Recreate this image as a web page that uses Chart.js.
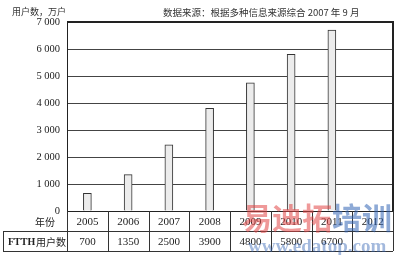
<!DOCTYPE html>
<html>
<head>
<meta charset="utf-8">
<script src="https://cdn.jsdelivr.net/npm/chart.js@4/dist/chart.umd.min.js"></script>
<style>
  html, body { margin: 0; padding: 0; background: #fff; }
  canvas { display: block; }
</style>
</head>
<body>
<canvas id="myChart" width="400" height="255"></canvas>
<script>
// données
var years = ['2005', '2006', '2007', '2008', '2009', '2010', '2011', '2012'];
var barValues = [650, 1350, 2450, 3800, 4750, 5800, 6700, null];
var tableValues = ['700', '1350', '2500', '3900', '4800', '5800', '6700', ''];
var yTicks = [0, 1000, 2000, 3000, 4000, 5000, 6000, 7000];

var unitText = '用户数，万户';
var sourceText = '数据来源：根据多种信息来源综合 2007 年 9 月';
var rowLabels = ['年份', 'FTTH 用户数'];

var serif = '"Liberation Serif", "Times New Roman", serif';
var cjk = '"Noto Sans CJK SC", sans-serif';
var ink = '#222';

function fmt(v) {
    var s = String(v);
    if (s.length > 3) s = s.slice(0, s.length - 3) + ' ' + s.slice(-3);
    return s;
}

var tablePlugin = {
    id: 'tablePlugin',
    afterDraw: function (chart) {
        var ctx = chart.ctx;
        var a = chart.chartArea;
        var x = chart.scales.x;
        var w = a.width / years.length;
        var rowH = 20;
        var r1 = a.bottom, r2 = a.bottom + rowH, r3 = a.bottom + 2 * rowH;
        var leftEdge = 3;

        ctx.save();
        // cadre du graphique
        ctx.strokeStyle = '#222';
        ctx.lineWidth = 1;
        ctx.strokeRect(a.left + 0.5, a.top + 0.5, a.width, a.height);
        ctx.lineWidth = 2;
        ctx.beginPath();
        ctx.moveTo(a.left, a.top);
        ctx.lineTo(a.right, a.top);
        ctx.lineTo(a.right, a.bottom);
        ctx.stroke();

        // tableau
        ctx.lineWidth = 1;
        ctx.strokeStyle = '#333';
        ctx.beginPath();
        ctx.moveTo(leftEdge, r2 + 0.5); ctx.lineTo(a.right, r2 + 0.5);
        ctx.moveTo(leftEdge, r3 + 0.5); ctx.lineTo(a.right, r3 + 0.5);
        ctx.moveTo(leftEdge + 0.5, r2); ctx.lineTo(leftEdge + 0.5, r3);
        for (var i = 0; i <= years.length; i++) {
            var bx = Math.round(a.left + i * w) + 0.5;
            ctx.moveTo(bx, r1); ctx.lineTo(bx, r3);
        }
        ctx.stroke();

        ctx.fillStyle = ink;
        ctx.textAlign = 'center';
        ctx.textBaseline = 'middle';
        for (var j = 0; j < years.length; j++) {
            var cx = x.getPixelForValue(j);
            ctx.font = '11px ' + serif;
            ctx.fillText(years[j], cx, r1 + rowH / 2 + 1);
            ctx.fillText(tableValues[j], cx, r2 + rowH / 2 + 1);
        }
        ctx.font = '10px ' + cjk;
        ctx.fillText(rowLabels[0], 45, r1 + rowH / 2 + 1);
        ctx.textAlign = 'left';
        ctx.font = 'bold 10px ' + serif;
        ctx.fillText('FTTH', 8, r2 + rowH / 2 + 1);
        ctx.font = '10px ' + cjk;
        ctx.fillText('用户数', 36, r2 + rowH / 2 + 1);

        // textes du haut
        ctx.font = '9px ' + cjk;
        ctx.fillStyle = '#333';
        ctx.fillText(unitText, 12, 12);
        ctx.font = '9.5px ' + cjk;
        ctx.fillText(sourceText, 163, 12);

        // filigrane
        ctx.font = 'bold 30px ' + cjk;
        ctx.textAlign = 'left';
        ctx.textBaseline = 'alphabetic';
        ctx.fillStyle = 'rgba(225, 70, 70, 0.55)';
        ctx.fillText('易迪拓', 242, 229);
        ctx.fillStyle = 'rgba(50, 100, 180, 0.55)';
        ctx.fillText('培训', 332, 229);
        ctx.font = 'bold 19px ' + serif;
        ctx.fillStyle = 'rgba(50, 100, 180, 0.45)';
        ctx.fillText('www.edatop.com', 248, 252);
        ctx.restore();
    }
};

var canvas = document.getElementById('myChart');
var ctx = canvas.getContext('2d');

var myChart = new Chart(ctx, {
    type: 'bar',
    data: {
        labels: years,
        datasets: [{
            label: 'FTTH 用户数',
            data: barValues,
            backgroundColor: '#ececec',
            borderColor: '#333',
            borderWidth: 1,
            barThickness: 8
        }]
    },
    options: {
        responsive: false,
        animation: false,
        devicePixelRatio: 1,
        layout: {
            padding: { top: 22, right: 7, bottom: 44, left: 0 }
        },
        scales: {
            x: {
                display: false,
                offset: true
            },
            y: {
                min: 0,
                max: 7000,
                afterBuildTicks: function (s) {
                    s.ticks = yTicks.map(function (v) { return { value: v }; });
                },
                afterFit: function (s) { s.width = 67; },
                ticks: {
                    callback: function (v) { return fmt(v); },
                    font: { family: serif, size: 10.5 },
                    color: ink,
                    padding: 7
                },
                grid: {
                    color: '#444',
                    lineWidth: 1,
                    drawTicks: false
                },
                border: { display: true, color: '#222', width: 1 }
            }
        },
        plugins: {
            legend: { display: false },
            tooltip: { enabled: false }
        }
    },
    plugins: [tablePlugin]
});
</script>
</body>
</html>
